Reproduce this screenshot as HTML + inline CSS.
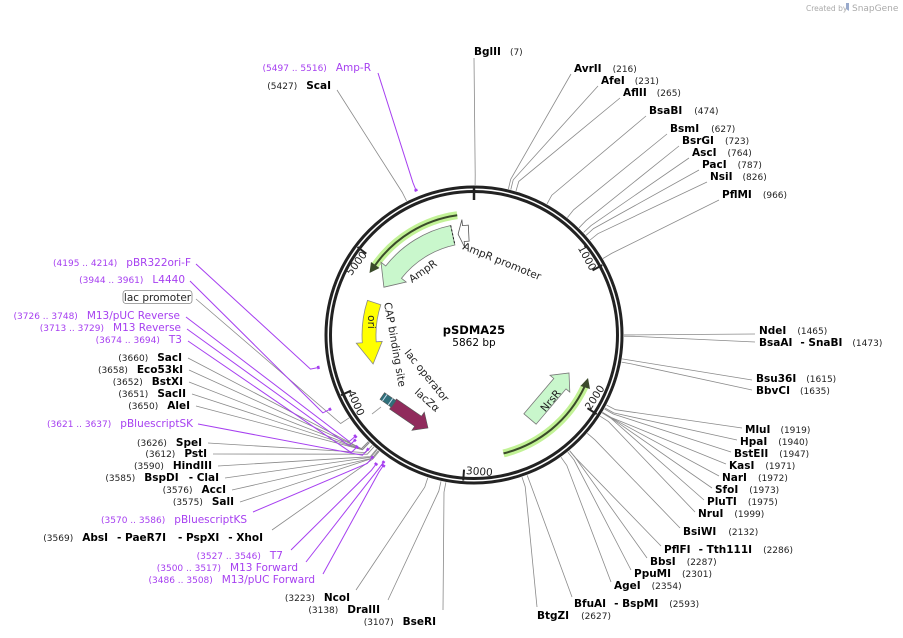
<!DOCTYPE html>
<html><head><meta charset="utf-8">
<style>
html,body{margin:0;padding:0;background:#fff;}
svg{display:block;font-family:"DejaVu Sans","Liberation Sans",sans-serif;}
.n{font-weight:bold;font-size:10.5px;fill:#000;}
.p{font-size:9px;fill:#222;font-weight:normal;}
.pu{font-size:10.5px;fill:#a63ff0;}
.pp{font-size:9px;fill:#a63ff0;}
.t{font-size:10.5px;fill:#222;}
</style></head><body>
<svg id="s" width="903" height="638" viewBox="0 0 903 638" xmlns="http://www.w3.org/2000/svg">
<g id="lines" stroke="#8a8a8a" stroke-width="0.8" fill="none"></g>
<g id="plines" stroke="#a63ff0" stroke-width="1" fill="none"></g>

<circle cx="474" cy="335" r="148" fill="#fff" stroke="#222" stroke-width="3"/>
<circle cx="474" cy="335" r="143.5" fill="none" stroke="#222" stroke-width="3"/>
<g stroke="#222" stroke-width="2.5">
<line x1="474" y1="187" x2="474" y2="200"/>
</g>
<g stroke="#222" stroke-width="2" id="ticks"></g>
<g class="t" font-size="10px">
<text x="593" y="270" transform="rotate(61.4 593 270)" text-anchor="end" dominant-baseline="middle">1000</text>
<text x="588" y="409" transform="rotate(-57.2 588 409)" text-anchor="start" dominant-baseline="middle">2000</text>
<text x="466" y="471" transform="rotate(4.2 466 471)" text-anchor="start" dominant-baseline="middle">3000</text>
<text x="350" y="391" transform="rotate(65.6 350 391)" text-anchor="start" dominant-baseline="middle">4000</text>
<text x="365" y="253" transform="rotate(-53 365 253)" text-anchor="end" dominant-baseline="middle">5000</text>
</g>

<path d="M457.2,215.2 A121,121 0 0 0 374.9,265.6" stroke="#c2f296" stroke-width="8" fill="none"/>
<path d="M457.2,215.2 A121,121 0 0 0 374.9,265.6" stroke="#3a4a2a" stroke-width="2" fill="none"/>
<polygon points="369.5,273 371.0,262 379.5,268" fill="#3a4a2a"/>
<path d="M503.5,453.4 A122,122 0 0 0 584.6,386.6" stroke="#c2f296" stroke-width="8" fill="none"/>
<path d="M503.5,453.4 A122,122 0 0 0 584.6,386.6" stroke="#3a4a2a" stroke-width="2" fill="none"/>
<polygon points="588,378 580.5,386 590,389" fill="#3a4a2a"/>

<path d="M450.7,225.5 A112,112 0 0 0 385.7,266.0 L381.0,262.3 L383.9,287.2 L406.2,282.0 L401.5,278.3 A92,92 0 0 1 454.9,245.0 Z" fill="#c9f7cc" stroke="#777" stroke-width="0.8"/>
<line x1="450.7" y1="225.5" x2="454.9" y2="245" stroke="#222" stroke-width="1" stroke-dasharray="2,2"/>
<path d="M468.3,225.1 L462.5,225.6 L461.9,219.6 L458.1,234.2 L464.8,247.5 L464.2,241.5 L469.1,241.1 Z" fill="#fff" stroke="#555" stroke-width="0.8"/>
<path d="M367.5,300.4 A112,112 0 0 0 362.3,342.8 L356.3,343.2 L373.1,364.0 L382.2,341.4 L376.2,341.8 A98,98 0 0 1 380.8,304.7 Z" fill="#ffff00" stroke="#888" stroke-width="0.8"/>
<text x="371" y="322" class="t" transform="rotate(90 371 322)" text-anchor="middle" dominant-baseline="middle" font-size="10px">ori</text>
<polygon points="523.9,413.8 553.8,378.5 550.0,375.3 569,373 569.8,392.1 566.0,388.9 536.1,424.2" fill="#c9f7cc" stroke="#777" stroke-width="0.8"/>
<text x="551" y="401" class="t" transform="rotate(-50 551 401)" text-anchor="middle" dominant-baseline="middle" font-size="10px">NrsR</text>
<polygon points="396.4,399 421.5,416.2 424.3,412.1 428,428 411.9,430.3 414.7,426.2 389.6,409" fill="#902b5c" stroke="#555" stroke-width="0.6"/>
<g transform="rotate(35 388 400)">
<rect x="381" y="396" width="14" height="8" fill="#2f6f7a" stroke="#555" stroke-width="0.6"/>
<line x1="384" y1="396" x2="384" y2="404" stroke="#cde" stroke-width="1"/>
<line x1="391" y1="396" x2="391" y2="404" stroke="#cde" stroke-width="1"/>
</g>
<line x1="372" y1="414" x2="381" y2="407" stroke="#999" stroke-width="0.8"/>

<text x="412" y="283" class="t" transform="rotate(-35 412 283)">AmpR</text>
<text x="462" y="249" class="t" transform="rotate(22 462 249)">AmpR promoter</text>
<text x="384" y="303" class="t" font-size="10px" transform="rotate(80 384 303)">CAP binding site</text>
<text x="404" y="353" class="t" font-size="10px" transform="rotate(51 404 353)">lac operator</text>
<text x="414" y="393" class="t" font-size="10px" transform="rotate(42 414 393)">lacZα</text>

<text x="474" y="334" text-anchor="middle" font-weight="bold" font-size="11.5px">pSDMA25</text>
<text x="474" y="346" text-anchor="middle" font-size="10.5px">5862 bp</text>

<g class="n">
<text x="474" y="55">BglII<tspan class="p" dx="9">(7)</tspan></text>
<text x="574" y="72">AvrII<tspan class="p" dx="11">(216)</tspan></text>
<text x="601" y="84">AfeI<tspan class="p" dx="10">(231)</tspan></text>
<text x="623" y="96">AflII<tspan class="p" dx="10">(265)</tspan></text>
<text x="649" y="114">BsaBI<tspan class="p" dx="12">(474)</tspan></text>
<text x="670" y="132">BsmI<tspan class="p" dx="12">(627)</tspan></text>
<text x="682" y="144">BsrGI<tspan class="p" dx="11">(723)</tspan></text>
<text x="692" y="156">AscI<tspan class="p" dx="11">(764)</tspan></text>
<text x="702" y="168">PacI<tspan class="p" dx="11">(787)</tspan></text>
<text x="710" y="180">NsiI<tspan class="p" dx="10">(826)</tspan></text>
<text x="722" y="198">PflMI<tspan class="p" dx="11">(966)</tspan></text>
<text x="759" y="334">NdeI<tspan class="p" dx="11">(1465)</tspan></text>
<text x="759" y="346">BsaAI<tspan dx="8">- SnaBI</tspan><tspan class="p" dx="10">(1473)</tspan></text>
<text x="756" y="382">Bsu36I<tspan class="p" dx="10">(1615)</tspan></text>
<text x="756" y="394">BbvCI<tspan class="p" dx="10">(1635)</tspan></text>
<text x="745" y="433">MluI<tspan class="p" dx="10">(1919)</tspan></text>
<text x="740" y="445">HpaI<tspan class="p" dx="11">(1940)</tspan></text>
<text x="734" y="457">BstEII<tspan class="p" dx="11">(1947)</tspan></text>
<text x="729" y="469">KasI<tspan class="p" dx="11">(1971)</tspan></text>
<text x="722" y="481">NarI<tspan class="p" dx="11">(1972)</tspan></text>
<text x="715" y="493">SfoI<tspan class="p" dx="11">(1973)</tspan></text>
<text x="707" y="505">PluTI<tspan class="p" dx="11">(1975)</tspan></text>
<text x="698" y="517">NruI<tspan class="p" dx="11">(1999)</tspan></text>
<text x="683" y="535">BsiWI<tspan class="p" dx="12">(2132)</tspan></text>
<text x="664" y="553">PflFI<tspan dx="8">- Tth111I</tspan><tspan class="p" dx="11">(2286)</tspan></text>
<text x="650" y="565">BbsI<tspan class="p" dx="11">(2287)</tspan></text>
<text x="634" y="577">PpuMI<tspan class="p" dx="11">(2301)</tspan></text>
<text x="614" y="589">AgeI<tspan class="p" dx="11">(2354)</tspan></text>
<text x="574" y="607">BfuAI<tspan dx="8">- BspMI</tspan><tspan class="p" dx="11">(2593)</tspan></text>
<text x="537" y="619">BtgZI<tspan class="p" dx="12">(2627)</tspan></text>
</g>

<g class="n" text-anchor="end">
<text x="331" y="89"><tspan class="p">(5427)</tspan><tspan dx="9">ScaI</tspan></text>
<text x="182" y="361"><tspan class="p">(3660)</tspan><tspan dx="9">SacI</tspan></text>
<text x="183" y="373"><tspan class="p">(3658)</tspan><tspan dx="9">Eco53kI</tspan></text>
<text x="183" y="385"><tspan class="p">(3652)</tspan><tspan dx="9">BstXI</tspan></text>
<text x="186" y="397"><tspan class="p">(3651)</tspan><tspan dx="9">SacII</tspan></text>
<text x="190" y="409"><tspan class="p">(3650)</tspan><tspan dx="9">AleI</tspan></text>
<text x="202" y="446"><tspan class="p">(3626)</tspan><tspan dx="9">SpeI</tspan></text>
<text x="207" y="457"><tspan class="p">(3612)</tspan><tspan dx="9">PstI</tspan></text>
<text x="212" y="469"><tspan class="p">(3590)</tspan><tspan dx="9">HindIII</tspan></text>
<text x="219" y="481"><tspan class="p">(3585)</tspan><tspan dx="9">BspDI</tspan><tspan dx="10">- ClaI</tspan></text>
<text x="226" y="493"><tspan class="p">(3576)</tspan><tspan dx="9">AccI</tspan></text>
<text x="234" y="505"><tspan class="p">(3575)</tspan><tspan dx="9">SalI</tspan></text>
<text x="263" y="541"><tspan class="p">(3569)</tspan><tspan dx="9">AbsI</tspan><tspan dx="9">- PaeR7I</tspan><tspan dx="12">- PspXI</tspan><tspan dx="9">- XhoI</tspan></text>
<text x="350" y="601"><tspan class="p">(3223)</tspan><tspan dx="9">NcoI</tspan></text>
<text x="380" y="613"><tspan class="p">(3138)</tspan><tspan dx="9">DraIII</tspan></text>
<text x="436" y="625"><tspan class="p">(3107)</tspan><tspan dx="9">BseRI</tspan></text>
</g>
<g class="pu" text-anchor="end">
<text x="371" y="71"><tspan class="pp">(5497 .. 5516)</tspan><tspan dx="9">Amp-R</tspan></text>
<text x="191" y="266"><tspan class="pp">(4195 .. 4214)</tspan><tspan dx="9">pBR322ori-F</tspan></text>
<text x="185" y="283"><tspan class="pp">(3944 .. 3961)</tspan><tspan dx="9">L4440</tspan></text>
<text x="180" y="319"><tspan class="pp">(3726 .. 3748)</tspan><tspan dx="9">M13/pUC Reverse</tspan></text>
<text x="181" y="331"><tspan class="pp">(3713 .. 3729)</tspan><tspan dx="9">M13 Reverse</tspan></text>
<text x="182" y="343"><tspan class="pp">(3674 .. 3694)</tspan><tspan dx="9">T3</tspan></text>
<text x="193" y="427"><tspan class="pp">(3621 .. 3637)</tspan><tspan dx="9">pBluescriptSK</tspan></text>
<text x="247" y="523"><tspan class="pp">(3570 .. 3586)</tspan><tspan dx="9">pBluescriptKS</tspan></text>
<text x="283" y="559"><tspan class="pp">(3527 .. 3546)</tspan><tspan dx="9">T7</tspan></text>
<text x="298" y="571"><tspan class="pp">(3500 .. 3517)</tspan><tspan dx="9">M13 Forward</tspan></text>
<text x="315" y="583"><tspan class="pp">(3486 .. 3508)</tspan><tspan dx="9">M13/pUC Forward</tspan></text>
</g>
<rect x="123" y="290.5" width="69" height="13" rx="3" fill="#fff" stroke="#888" stroke-width="0.8"/>
<text x="157.5" y="301" text-anchor="middle" class="t" font-size="10.5px">lac promoter</text>

<text x="806" y="11" font-size="7.5px" fill="#aaa">Created by</text>
<text x="852" y="11" font-size="9px" fill="#aaa">SnapGene</text>
<path d="M846,3 l3,0 l0,8 l-3,-2z" fill="#9ac"/>
</svg>
<script>
(function(){
var cx=474,cy=335,N=5862;
function pt(r,pos){var a=pos/N*2*Math.PI;return [cx+r*Math.sin(a),cy-r*Math.cos(a)];}
var NS="http://www.w3.org/2000/svg";
function pl(g,pts){var e=document.createElementNS(NS,"polyline");e.setAttribute("points",pts.map(function(p){return p[0].toFixed(1)+","+p[1].toFixed(1)}).join(" "));g.appendChild(e);}
var L=document.getElementById("lines"),P=document.getElementById("plines"),T=document.getElementById("ticks");
[1000,2000,3000,4000,5000].forEach(function(p){var a=pt(135,p),b=pt(146,p);var e=document.createElementNS(NS,"line");e.setAttribute("x1",a[0]);e.setAttribute("y1",a[1]);e.setAttribute("x2",b[0]);e.setAttribute("y2",b[1]);T.appendChild(e);});
var g=[[7,474,58],[216,571,74],[231,598,86],[265,620,98],[474,646,116],[627,667,134],[723,679,146],[764,689,158],[787,699,170],[826,707,182],[966,719,200],
[1465,755,334],[1473,755,342],[1615,752,380],[1635,752,390],[1919,742,428],[1940,737,440],[1947,731,452],[1971,726,464],[1972,719,476],[1973,712,488],[1975,704,500],[1999,695,512],
[2132,680,528],[2286,661,546],[2287,647,558],[2301,631,570],[2354,611,582],[2593,572,597],[2627,537,607],
[5427,337,90],[3660,188,358],[3658,189,370],[3652,189,382],[3651,192,394],[3650,196,406],[3626,208,443],[3612,213,454],[3590,218,466],[3585,225,478],[3576,232,490],[3575,240,502],[3569,272,530],[3223,356,590],[3138,388,600],[3107,443,610]];
g.forEach(function(d){var a=pt(150,d[0]),b=pt(160,d[0]);pl(L,[a,b,[d[1],d[2]]]);});
pl(L,[pt(150,3850),pt(160,3850),[196,299]]);
var f=[[5497,5516,378,73],[4195,4214,196,264],[3944,3961,190,281],[3726,3748,186,317],[3713,3729,187,329],[3674,3694,188,341],[3621,3637,198,424],[3570,3586,253,512],[3527,3546,291,550],[3500,3517,306,562],[3486,3508,323,574]];
f.forEach(function(d,i){var r=156+(i%3)*3;var m=(d[0]+d[1])/2;
 var a1=pt(r,d[0]),a2=pt(r,d[1]);var e=document.createElementNS(NS,"path");
 e.setAttribute("d","M"+a1[0]+","+a1[1]+" A"+r+","+r+" 0 0 1 "+a2[0]+","+a2[1]);e.setAttribute("stroke-width","2.5");P.appendChild(e);
 pl(P,[pt(r,m),pt(r+8,m),[d[2],d[3]]]);});
})();
</script>
</body></html>
